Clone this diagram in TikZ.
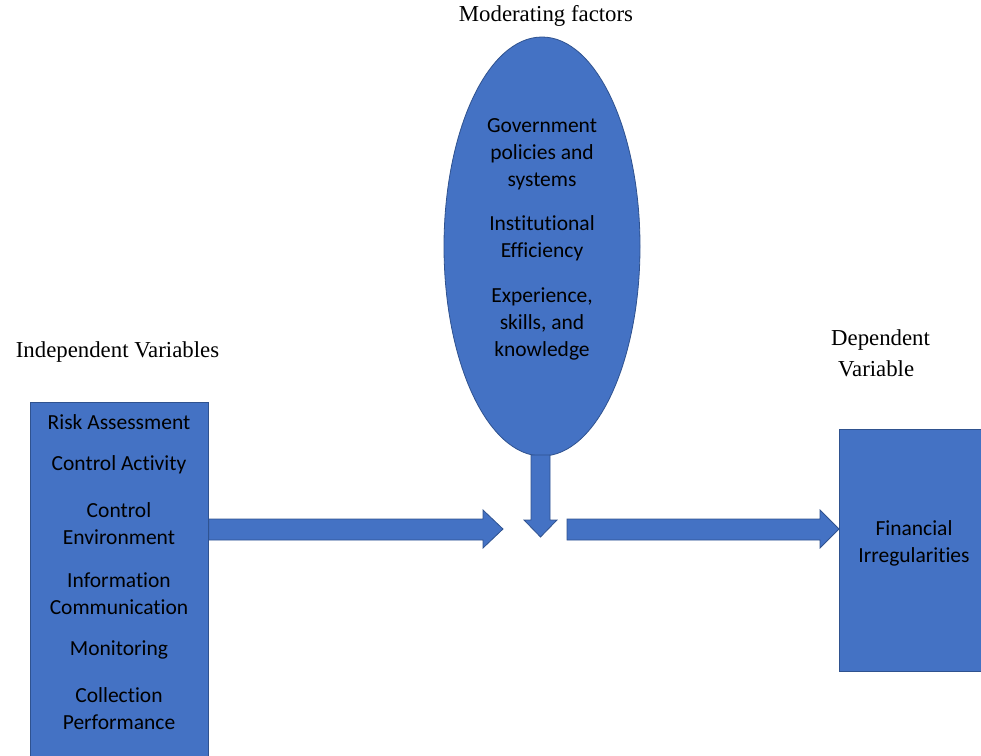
\documentclass[tikz,border=0pt]{standalone}
\usepackage{fontspec}
\setmainfont{Liberation Serif}
\newfontfamily\bodyfont[Ligatures={NoCommon,NoContextual},Contextuals=NoAlternate,RawFeature=-dlig]{Carlito}
\usetikzlibrary{shapes.geometric,calc}
\definecolor{blockfill}{HTML}{4472C4}
\definecolor{blockline}{HTML}{2F528F}
\begin{document}
\begin{tikzpicture}[x=1pt,y=-1pt,
  block/.style={fill=blockfill,draw=blockline,line width=0.8pt},
  inner/.style={font=\bodyfont\fontsize{21.5}{27}\selectfont,text=black,align=center,inner sep=0pt},
  caption/.style={font=\fontsize{22.8}{31}\selectfont,text=black,inner sep=0pt}]
\useasboundingbox (0,0) rectangle (981,755);
% boxes
\node[block,minimum width=178pt,minimum height=360pt,anchor=north west,inner sep=0pt] (indep) at (30,402) {};
\node[block,minimum width=150pt,minimum height=242pt,anchor=north west,inner sep=0pt] (dep) at (839,429) {};
\node[block,ellipse,minimum width=196pt,minimum height=419pt,inner sep=0pt] (mod) at (542,246.5) {};
% junction
\coordinate (j) at (540.5,529);
% arrows
\draw[block] (indep.east |- 0,519) -- (483,519) -- (483,510) -- (503,529) -- (483,548) -- (483,540) -- (indep.east |- 0,540) -- cycle;
\draw[block] (567,519) -- (820,519) -- (820,510) -- (dep.west |- j) -- (820,548) -- (820,540) -- (567,540) -- cycle;
\draw[block] (531,455) -- (550,455) -- (550,520) -- (557,520) -- (540.5,537) -- (524,520) -- (531,520) -- cycle;
% texts
\node[inner] (t1) at (119,422) {Risk Assessment};
\node[inner] (t2) at (119,465) {Control Activity};
\node[inner] (t3) at (119,523.5) {Control\\Environment};
\node[inner] (t4) at (119,593.5) {Information\\Communication};
\node[inner] (t5) at (119,650) {Monitoring};
\node[inner] (t6) at (119,708.5) {Collection\\Performance};
\node[inner] (m1) at (542,154) {Government\\policies and\\systems};
\node[inner] (m2) at (542,238.5) {Institutional\\Efficiency};
\node[inner] (m3) at (542,324) {Experience,\\skills, and\\knowledge};
\node[inner] (d1) at (914,543.5) {Financial\\Irregularities};
% captions
\node[caption] (c1) at (546,16) {Moderating factors};
\node[caption] (c2) at (117.5,352) {Independent Variables};
\node[caption,align=left,anchor=west] (c3) at (831,353.5) {Dependent\\\hspace*{7pt}Variable};
\end{tikzpicture}
\end{document}
